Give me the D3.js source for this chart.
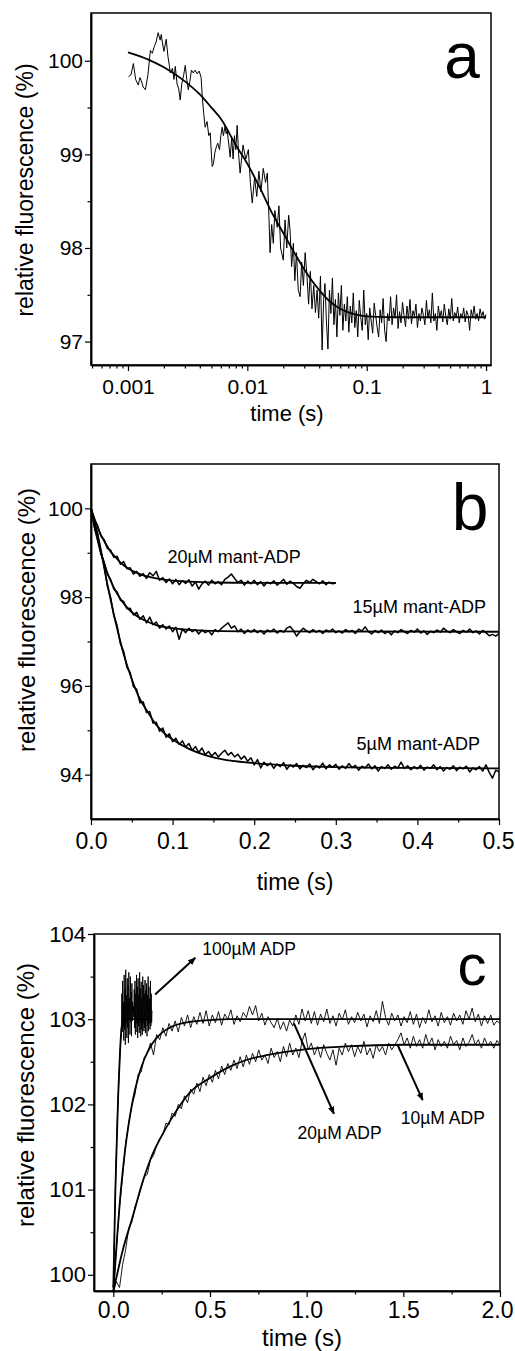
<!DOCTYPE html>
<html>
<head>
<meta charset="utf-8">
<script src="https://cdn.jsdelivr.net/npm/d3@7"></script>
<style>
  body { margin: 0; background: #fff; }
  svg text { font-family: "Liberation Sans", Arial, sans-serif; fill: #000; }
</style>
</head>
<body>
<svg id="chart" width="515" height="1351"></svg>
<script>
// ---------- panel a: log time, single trace + fit ----------
const aHeadTime = [0.00101, 0.00106, 0.00111, 0.00116, 0.00122, 0.00126, 0.00129, 0.00134, 0.00140, 0.00147,
  0.00154, 0.00160, 0.00166, 0.00172, 0.00179, 0.00186, 0.00190, 0.00194, 0.00200, 0.00209,
  0.00216, 0.00222, 0.00226, 0.00236, 0.00243, 0.00249, 0.00258, 0.00266, 0.00274, 0.00282,
  0.00293, 0.00302, 0.00311, 0.00320, 0.00330, 0.00340, 0.00352, 0.00365, 0.00380, 0.00395,
  0.00410, 0.00420, 0.00430, 0.00443, 0.00460, 0.00475, 0.00489, 0.00500, 0.00508, 0.00520,
  0.00535, 0.00550, 0.00565, 0.00585, 0.00600, 0.00615, 0.00630, 0.00650, 0.00665, 0.00678,
  0.00700, 0.00718, 0.00740, 0.00760, 0.00780, 0.00800, 0.00822, 0.00845, 0.00870, 0.00920,
  0.00970, 0.01020, 0.01060, 0.01100, 0.01150, 0.01200, 0.01250, 0.01300, 0.01360, 0.01420,
  0.01470, 0.01520, 0.01550, 0.01600, 0.01650, 0.01700, 0.01780, 0.01840, 0.01900, 0.02000,
  0.02070, 0.02140, 0.02220, 0.02280, 0.02350, 0.02430, 0.02500, 0.02580, 0.02670, 0.02770,
  0.02850, 0.02950, 0.03050, 0.03160, 0.03260, 0.03370, 0.03480, 0.03600, 0.03720, 0.03840,
  0.03960, 0.04100, 0.04230, 0.04360];
const aHeadValue = [99.83, 99.85, 99.97, 99.80, 99.74, 99.82, 99.79, 99.72, 99.69, 99.85,
  100.11, 100.08, 100.15, 100.20, 100.30, 100.22, 100.28, 100.20, 100.10, 100.23,
  100.05, 99.95, 99.87, 99.92, 99.80, 99.94, 99.75, 99.70, 99.58, 99.75,
  99.85, 99.95, 99.80, 99.69, 99.78, 99.90, 99.87, 99.90, 99.86, 99.89,
  99.82, 99.60, 99.45, 99.29, 99.35, 99.20, 99.23, 99.00, 98.87, 98.90,
  99.02, 99.08, 99.12, 99.05, 99.20, 99.29, 99.20, 99.30, 99.22, 99.26,
  99.10, 98.97, 99.18, 98.95, 99.20, 99.05, 99.31, 99.00, 98.80, 99.10,
  98.95, 99.05, 98.70, 98.48, 98.75, 98.55, 98.82, 98.60, 98.85, 98.70,
  98.80, 98.30, 97.95, 98.25, 98.05, 98.40, 98.22, 98.45, 98.00, 97.87,
  98.30, 98.00, 98.35, 98.19, 97.80, 98.05, 97.65, 97.95, 97.55, 97.48,
  97.85, 97.60, 97.95, 97.70, 97.40, 97.75, 97.35, 97.60, 97.31, 97.55,
  97.25, 97.70, 96.91, 97.45];
// tail recorded on a log-even grid from 0.0447 s to 1 s
const aTailFrom = 0.0447, aTailTo = 1;
const aTailValue = [97.62, 97.21, 96.92, 97.55, 97.30, 97.68, 97.18, 97.45, 97.05, 97.52, 97.28, 97.60, 97.12, 97.40, 97.22, 97.48,
  97.10, 97.38, 97.20, 97.52, 97.15, 97.33, 97.05, 97.44, 97.26, 97.12, 97.55, 97.18, 97.30, 97.02, 97.36, 97.22, 97.09, 97.41, 97.28, 97.15, 97.05, 97.34, 97.20, 97.46, 97.12,
  97.00, 97.30, 97.22, 97.48, 97.18, 97.36, 97.25, 97.50, 97.14, 97.32, 97.20, 97.42, 97.28, 97.16, 97.38, 97.24, 97.45, 97.19, 97.33, 97.27, 97.40, 97.15, 97.30, 97.22, 97.36,
  97.28, 97.18, 97.44, 97.25, 97.34, 97.20, 97.52, 97.22, 97.30, 97.12, 97.38, 97.26, 97.33, 97.21, 97.40, 97.27, 97.18, 97.35, 97.24, 97.46, 97.22, 97.31, 97.26, 97.37, 97.20,
  97.30, 97.25, 97.36, 97.21, 97.33, 97.28, 97.12, 97.34, 97.26, 97.38, 97.24, 97.30, 97.22, 97.35, 97.27, 97.32, 97.24, 97.29];
const aFitTime = [0.001, 0.0015, 0.002, 0.003, 0.004, 0.005, 0.006, 0.008, 0.01, 0.013, 0.016, 0.02, 0.025, 0.03, 0.04, 0.05, 0.06, 0.08, 0.1, 0.2, 0.5, 1];
const aFitValue = [100.09, 100.01, 99.93, 99.78, 99.64, 99.50, 99.38, 99.10, 98.90, 98.62, 98.38, 98.16, 97.94, 97.77, 97.55, 97.42, 97.35, 97.29, 97.27, 97.26, 97.26, 97.26];

// ---------- panel b: three mant-ADP traces, 4 ms sampling ----------
const bStep = 0.004;
const b20Value = [100.00, 99.74, 99.62, 99.38, 99.30, 99.10, 99.06, 98.90, 98.92, 98.74,
  98.80, 98.64, 98.66, 98.52, 98.58, 98.47, 98.53, 98.42, 98.55, 98.48,
  98.58, 98.38, 98.44, 98.33, 98.41, 98.30, 98.40, 98.28, 98.37, 98.31,
  98.39, 98.25, 98.34, 98.18, 98.30, 98.36, 98.27, 98.38, 98.30, 98.35,
  98.28, 98.40, 98.45, 98.52, 98.42, 98.33, 98.38, 98.27, 98.36, 98.30,
  98.38, 98.28, 98.35, 98.25, 98.34, 98.30, 98.37, 98.27, 98.33, 98.40,
  98.29, 98.36, 98.31, 98.24, 98.20, 98.30, 98.38, 98.33, 98.40, 98.35,
  98.30, 98.37, 98.28, 98.34, 98.30, 98.32];
const b15Value = [100.00, 99.58, 99.32, 98.98, 98.80, 98.52, 98.40, 98.18, 98.12, 97.93,
  97.90, 97.74, 97.75, 97.60, 97.66, 97.50, 97.58, 97.42, 97.55, 97.38,
  97.44, 97.30, 97.38, 97.28, 97.35, 97.22, 97.32, 97.05, 97.28, 97.20,
  97.30, 97.22, 97.27, 97.17, 97.26, 97.20, 97.24, 97.15, 97.27, 97.22,
  97.30, 97.36, 97.42, 97.30, 97.35, 97.22, 97.28, 97.18, 97.26, 97.21,
  97.27, 97.20, 97.25, 97.17, 97.26, 97.22, 97.28, 97.19, 97.25, 97.21,
  97.30, 97.34, 97.25, 97.12, 97.22, 97.30, 97.24, 97.20, 97.27, 97.21,
  97.25, 97.18, 97.26, 97.22, 97.28, 97.20, 97.24, 97.19, 97.27, 97.22,
  97.25, 97.18, 97.28, 97.24, 97.33, 97.22, 97.17, 97.25, 97.20, 97.26,
  97.18, 97.23, 97.15, 97.24, 97.20, 97.27, 97.22, 97.18, 97.25, 97.21,
  97.28, 97.19, 97.24, 97.16, 97.23, 97.20, 97.26, 97.21, 97.30, 97.24,
  97.20, 97.27, 97.22, 97.18, 97.25, 97.21, 97.28, 97.20, 97.24, 97.17,
  97.25, 97.20, 97.13, 97.16, 97.12, 97.18];
const b5Value = [100.00, 99.68, 99.45, 99.02, 98.72, 98.25, 98.00, 97.58, 97.36, 96.95,
  96.78, 96.42, 96.30, 95.98, 95.92, 95.62, 95.64, 95.40, 95.42, 95.16,
  95.18, 94.98, 95.05, 94.84, 94.92, 94.74, 94.82, 94.68, 94.76, 94.62,
  94.70, 94.55, 94.63, 94.50, 94.60, 94.45, 94.52, 94.42, 94.50, 94.40,
  94.48, 94.55, 94.44, 94.50, 94.40, 94.46, 94.35, 94.42, 94.30, 94.38,
  94.22, 94.34, 94.15, 94.28, 94.20, 94.26, 94.14, 94.24, 94.18, 94.27,
  94.12, 94.22, 94.17, 94.25, 94.13, 94.21, 94.16, 94.24, 94.11, 94.20,
  94.15, 94.26, 94.13, 94.22, 94.17, 94.23, 94.12, 94.20, 94.14, 94.25,
  94.16, 94.21, 94.10, 94.19, 94.15, 94.24, 94.13, 94.20, 94.08, 94.18,
  94.14, 94.22, 94.12, 94.19, 94.15, 94.28, 94.14, 94.20, 94.11, 94.18,
  94.13, 94.21, 94.10, 94.17, 94.14, 94.22, 94.11, 94.18, 94.08, 94.16,
  94.12, 94.20, 94.09, 94.17, 94.13, 94.19, 94.06, 94.15, 94.11, 94.18,
  94.08, 94.22, 94.05, 93.92, 94.10, 94.06];
const b20FitTime = [0, 0.004, 0.008, 0.012, 0.016, 0.02, 0.025, 0.03, 0.035, 0.04, 0.05, 0.06, 0.07, 0.08, 0.1, 0.12, 0.15, 0.2, 0.3];
const b20FitValue = [100, 99.78, 99.58, 99.41, 99.27, 99.14, 99.00, 98.90, 98.80, 98.72, 98.60, 98.52, 98.46, 98.42, 98.37, 98.35, 98.33, 98.32, 98.32];
const b15FitTime = [0, 0.004, 0.008, 0.012, 0.016, 0.02, 0.025, 0.03, 0.035, 0.04, 0.05, 0.06, 0.07, 0.08, 0.1, 0.12, 0.15, 0.2, 0.5];
const b15FitValue = [100, 99.62, 99.29, 99.01, 98.76, 98.55, 98.33, 98.14, 97.99, 97.86, 97.66, 97.53, 97.44, 97.37, 97.30, 97.26, 97.24, 97.23, 97.22];
const b5FitTime = [0, 0.01, 0.02, 0.03, 0.04, 0.05, 0.06, 0.07, 0.08, 0.09, 0.1, 0.12, 0.14, 0.16, 0.2, 0.25, 0.3, 0.4, 0.5];
const b5FitValue = [100, 99.25, 98.30, 97.45, 96.72, 96.15, 95.70, 95.40, 95.12, 94.93, 94.79, 94.58, 94.44, 94.35, 94.26, 94.20, 94.17, 94.15, 94.14];
const bLabels = ['20\u00b5M mant-ADP', '15\u00b5M mant-ADP', '5\u00b5M mant-ADP'];
const bLabelTime = [0.0936, 0.3205, 0.3254];
const bLabelValue = [98.91, 97.79, 94.70];

// ---------- panel c: ADP traces ----------
const c100Step = 0.002;
const c100Value = [99.85, 100.05, 100.30, 100.52, 100.75, 100.95, 101.12, 101.30, 101.45, 101.62,
  101.78, 101.90, 102.02, 102.15, 102.25, 102.38, 102.48, 102.58, 102.65, 102.74,
  102.80, 102.95,
  103.30, 102.85, 103.45, 102.92, 103.20, 102.75, 103.52, 102.88, 103.35, 102.70,
  103.58, 102.95, 103.28, 102.78, 103.48, 102.90, 103.40, 102.72, 103.55, 103.00,
  103.25, 102.82, 103.50, 102.96, 103.32, 102.80, 103.42, 102.98, 103.20, 103.05,
  103.15, 103.02, 103.35, 102.90, 103.45, 102.82, 103.30, 102.95, 103.52, 102.85,
  103.38, 102.78, 103.48, 102.92, 103.28, 102.84, 103.55, 102.96, 103.36, 102.80,
  103.44, 102.88, 103.25, 102.82, 103.50, 102.94, 103.40, 102.86, 103.30, 102.90,
  103.46, 102.84, 103.34, 102.98, 103.42, 102.80, 103.28, 102.92, 103.50, 102.86,
  103.38, 102.95, 103.24, 102.88, 103.45, 102.92, 103.30, 102.96, 103.10];
const cStep = 0.016;
const c20Value = [99.80, 100.32, 100.80, 101.15, 101.55, 101.78, 102.00, 102.12, 102.35, 102.38,
  102.55, 102.60, 102.72, 102.58, 102.82, 102.76, 102.90, 102.80, 102.95, 102.86,
  102.98, 102.85, 103.02, 102.92, 103.05, 102.90, 103.03, 102.94, 103.08, 102.95,
  103.10, 102.92, 103.05, 102.96, 103.09, 102.93, 103.06, 103.00, 103.11, 102.94,
  103.04, 102.97, 103.08, 103.02, 103.15, 103.05, 103.16, 102.98, 103.07, 102.93,
  103.03, 102.96, 102.90, 103.01, 102.88, 102.97, 102.86, 102.99, 102.92, 103.05,
  102.94, 103.12, 102.98, 103.10, 102.95, 103.09, 102.93, 103.06, 102.97, 103.12,
  102.95, 103.04, 102.92, 103.07, 102.99, 103.11, 102.94, 103.03, 102.96, 103.08,
  102.98, 103.06, 102.91, 103.04, 102.97, 103.10, 102.95, 103.21, 103.02, 102.93,
  103.07, 102.98, 103.05, 102.92, 103.03, 102.96, 103.09, 102.94, 103.06, 102.90,
  103.02, 102.95, 103.11, 102.97, 103.04, 102.92, 103.08, 102.96, 103.03, 102.93,
  103.07, 102.98, 103.05, 102.94, 103.10, 103.00, 103.13, 102.97, 103.06, 102.92,
  103.04, 102.95, 103.05, 102.93, 102.98, 102.95];
const c10Value = [99.82, 99.92, 99.85, 100.12, 100.30, 100.55, 100.62, 100.80, 100.90, 101.02,
  101.15, 101.18, 101.35, 101.40, 101.52, 101.60, 101.64, 101.78, 101.76, 101.90,
  101.86, 102.00, 101.95, 102.10, 102.02, 102.18, 102.12, 102.25, 102.15, 102.32,
  102.22, 102.35, 102.26, 102.40, 102.30, 102.45, 102.35, 102.48, 102.40, 102.52,
  102.42, 102.56, 102.44, 102.58, 102.47, 102.60, 102.50, 102.64, 102.52, 102.58,
  102.48, 102.66, 102.55, 102.62, 102.50, 102.68, 102.56, 102.72, 102.58, 102.66,
  102.55, 102.74, 102.84, 102.64, 102.72, 102.58, 102.68, 102.55, 102.70, 102.60,
  102.52, 102.64, 102.46, 102.66, 102.58, 102.72, 102.62, 102.70, 102.56, 102.68,
  102.60, 102.74, 102.58, 102.66, 102.54, 102.70, 102.62, 102.68, 102.58, 102.72,
  102.64, 102.70, 102.76, 102.84, 102.70, 102.78, 102.66, 102.80, 102.68, 102.76,
  102.66, 102.82, 102.70, 102.78, 102.64, 102.76, 102.68, 102.74, 102.66, 102.80,
  102.70, 102.75, 102.64, 102.78, 102.68, 102.73, 102.82, 102.70, 102.76, 102.66,
  102.78, 102.69, 102.74, 102.66, 102.75, 102.70];
const c100FitTime = [0, 0.005, 0.01, 0.017, 0.025, 0.035, 0.043, 0.06, 0.2];
const c100FitValue = [99.85, 100.40, 100.95, 101.50, 102.10, 102.64, 102.90, 103.00, 103.00];
const c20FitTime = [0, 0.02, 0.04, 0.06, 0.08, 0.1, 0.13, 0.16, 0.2, 0.25, 0.3, 0.4, 0.5, 0.6, 2.0];
const c20FitValue = [99.80, 100.45, 101.02, 101.45, 101.78, 102.04, 102.33, 102.53, 102.71, 102.84, 102.91, 102.97, 102.99, 103.00, 103.00];
const c10FitTime = [0, 0.05, 0.1, 0.15, 0.2, 0.25, 0.3, 0.4, 0.5, 0.6, 0.7, 0.8, 0.9, 1.0, 1.2, 1.5, 2.0];
const c10FitValue = [99.80, 100.30, 100.68, 101.08, 101.40, 101.63, 101.83, 102.15, 102.31, 102.44, 102.53, 102.58, 102.62, 102.65, 102.68, 102.70, 102.70];
const cLabels = ['100\u00b5M ADP', '20\u00b5M ADP', '10\u00b5M ADP'];
const cLabelTime = [0.46, 0.953, 1.487];
const cLabelValue = [103.82, 101.67, 101.84];
// arrows: [t0, v0, t1, v1], head at the label end
const cArrows = [[0.216, 103.29, 0.424, 103.72], [0.934, 102.95, 1.141, 101.89], [1.47, 102.70, 1.60, 102.05]];

const FONT = '"Liberation Sans", Arial, sans-serif';
const svg = d3.select('#chart');

function drawPanel(p) {
    const g = svg.append('g');
    const [x0, x1] = p.x.range();
    const [yb, yt] = p.y.range();

    // minor ticks first, then major with labels
    g.append('g')
        .attr('transform', `translate(0,${yb})`)
        .call(d3.axisBottom(p.x).tickValues(p.xMinor).tickSize(3.5).tickSizeOuter(0).tickFormat(''));
    g.append('g')
        .attr('transform', `translate(${x0},0)`)
        .call(d3.axisLeft(p.y).tickValues(p.yMinor).tickSize(3.5).tickSizeOuter(0).tickFormat(''));

    const xAx = g.append('g')
        .attr('transform', `translate(0,${yb})`)
        .call(d3.axisBottom(p.x).tickValues(p.xTicks).tickSize(6).tickSizeOuter(0)
            .tickPadding(p.xPad).tickFormat(p.xFormat));
    xAx.selectAll('text').attr('font-size', p.xFont).attr('font-family', FONT);
    // keep the last label inside the page
    xAx.selectAll('.tick:last-of-type text').attr('dx', p.lastDx || 0);

    const yAx = g.append('g')
        .attr('transform', `translate(${x0},0)`)
        .call(d3.axisLeft(p.y).tickValues(p.yTicks).tickSize(6).tickSizeOuter(0)
            .tickPadding(2).tickFormat(d3.format('d')));
    yAx.selectAll('text').attr('font-size', p.yFont).attr('font-family', FONT);

    g.selectAll('.domain').attr('stroke', '#000').attr('stroke-width', 1.5);
    g.selectAll('.tick line').attr('stroke', '#000').attr('stroke-width', 1.2);

    // frame
    g.append('rect')
        .attr('x', x0).attr('y', yt)
        .attr('width', x1 - x0).attr('height', yb - yt)
        .attr('fill', 'none').attr('stroke', '#000').attr('stroke-width', 1.5);

    const line = d3.line().x(d => p.x(d[0])).y(d => p.y(d[1]));
    const smooth = d3.line().curve(d3.curveMonotoneX).x(d => p.x(d[0])).y(d => p.y(d[1]));

    p.traces.forEach(tr => {
        g.append('path').datum(tr)
            .attr('d', line)
            .attr('fill', 'none').attr('stroke', '#000')
            .attr('stroke-width', p.traceWidth).attr('stroke-linejoin', 'round');
    });
    p.fits.forEach(f => {
        g.append('path').datum(f)
            .attr('d', smooth)
            .attr('fill', 'none').attr('stroke', '#000').attr('stroke-width', 1.8);
    });

    // axis titles and panel letter
    g.append('text')
        .attr('x', (x0 + x1) / 2 + p.titleShift).attr('y', p.titleY)
        .attr('text-anchor', 'middle').attr('font-size', p.titleFont)
        .text('time (s)');
    g.append('text')
        .attr('transform', `translate(${p.yTitleX},${p.yTitleY}) rotate(-90)`)
        .attr('text-anchor', 'middle').attr('font-size', p.yTitleFont)
        .text('relative fluorescence (%)');
    g.append('text')
        .attr('x', p.letterX).attr('y', p.letterY)
        .attr('text-anchor', 'middle').attr('font-size', p.letterFont)
        .text(p.letter);
    return g;
}

const pairs = (ts, vs) => vs.map((v, i) => [ts[i], v]);
const stepped = (step, vs) => vs.map((v, i) => [i * step, v]);

// ----- panel a -----
const xA = d3.scaleLog().domain([0.00049, 1.1]).range([91, 491]);
const yA = d3.scaleLinear().domain([96.75, 100.51]).range([365, 13]);
const tailTimes = aTailValue.map((v, i) =>
    Math.pow(10, Math.log10(aTailFrom) + i * (Math.log10(aTailTo) - Math.log10(aTailFrom)) / (aTailValue.length - 1)));
const aMinor = [];
[0.0001, 0.001, 0.01, 0.1].forEach(dec => {
    for (let k = 2; k <= 9; k++) {
        const t = dec * k;
        if (t > 0.00049 && t < 1.1) aMinor.push(t);
    }
});
drawPanel({
    x: xA, y: yA,
    xTicks: [0.001, 0.01, 0.1, 1], xMinor: aMinor, xFormat: d3.format(''), xPad: 8, xFont: 21,
    yTicks: [97, 98, 99, 100], yMinor: [97.5, 98.5, 99.5], yFont: 21,
    traces: [pairs(aHeadTime, aHeadValue).concat(pairs(tailTimes, aTailValue))],
    traceWidth: 1,
    fits: [pairs(aFitTime, aFitValue)],
    titleShift: -4, titleY: 421, titleFont: 22,
    yTitleX: 33, yTitleY: 190, yTitleFont: 23,
    letter: 'a', letterX: 462, letterY: 78, letterFont: 64
});

// ----- panel b -----
const xB = d3.scaleLinear().domain([0, 0.5]).range([91, 499]);
const yB = d3.scaleLinear().domain([93, 101]).range([819, 464]);
const gB = drawPanel({
    x: xB, y: yB,
    xTicks: [0, 0.1, 0.2, 0.3, 0.4, 0.5], xMinor: [0.05, 0.15, 0.25, 0.35, 0.45], xFormat: d3.format('.1f'), xPad: 8, xFont: 23,
    lastDx: -1,
    yTicks: [94, 96, 98, 100], yMinor: [95, 97, 99], yFont: 21,
    traces: [stepped(bStep, b20Value), stepped(bStep, b15Value), stepped(bStep, b5Value)],
    traceWidth: 1.5,
    fits: [pairs(b20FitTime, b20FitValue), pairs(b15FitTime, b15FitValue), pairs(b5FitTime, b5FitValue)],
    titleShift: 0, titleY: 890, titleFont: 23,
    yTitleX: 35, yTitleY: 620, yTitleFont: 24,
    letter: 'b', letterX: 470, letterY: 530, letterFont: 66
});
gB.selectAll('.blab').data(bLabels).join('text')
    .attr('class', 'blab')
    .attr('x', (d, i) => xB(bLabelTime[i]))
    .attr('y', (d, i) => yB(bLabelValue[i]))
    .attr('dy', '0.35em').attr('font-size', 18)
    .text(d => d);

// ----- panel c -----
const xC = d3.scaleLinear().domain([-0.1, 2.0]).range([94, 500]);
const yC = d3.scaleLinear().domain([99.81, 104]).range([1291, 934]);
const gC = drawPanel({
    x: xC, y: yC,
    xTicks: [0, 0.5, 1, 1.5, 2], xMinor: [0.25, 0.75, 1.25, 1.75], xFormat: d3.format('.1f'), xPad: 5, xFont: 23,
    lastDx: -3,
    yTicks: [100, 101, 102, 103, 104], yMinor: [100.5, 101.5, 102.5, 103.5], yFont: 22,
    traces: [stepped(c100Step, c100Value), stepped(cStep, c20Value), stepped(cStep, c10Value)],
    traceWidth: 0.9,
    fits: [pairs(c100FitTime, c100FitValue), pairs(c20FitTime, c20FitValue), pairs(c10FitTime, c10FitValue)],
    titleShift: 5, titleY: 1346, titleFont: 24,
    yTitleX: 34, yTitleY: 1095, yTitleFont: 24,
    letter: 'c', letterX: 472, letterY: 985, letterFont: 58
});
gC.selectAll('.clab').data(cLabels).join('text')
    .attr('class', 'clab')
    .attr('x', (d, i) => xC(cLabelTime[i]))
    .attr('y', (d, i) => yC(cLabelValue[i]))
    .attr('dy', '0.35em').attr('font-size', 17.5)
    .text(d => d);

svg.append('defs').append('marker')
    .attr('id', 'head').attr('viewBox', '0 0 10 10')
    .attr('refX', 9).attr('refY', 5)
    .attr('markerWidth', 4).attr('markerHeight', 4)
    .attr('orient', 'auto')
    .append('path').attr('d', 'M0,1L10,5L0,9Z').attr('fill', '#000');
gC.selectAll('.arrow').data(cArrows).join('line')
    .attr('class', 'arrow')
    .attr('x1', d => xC(d[0])).attr('y1', d => yC(d[1]))
    .attr('x2', d => xC(d[2])).attr('y2', d => yC(d[3]))
    .attr('stroke', '#000').attr('stroke-width', 2)
    .attr('marker-end', 'url(#head)');
</script>
</body>
</html>
